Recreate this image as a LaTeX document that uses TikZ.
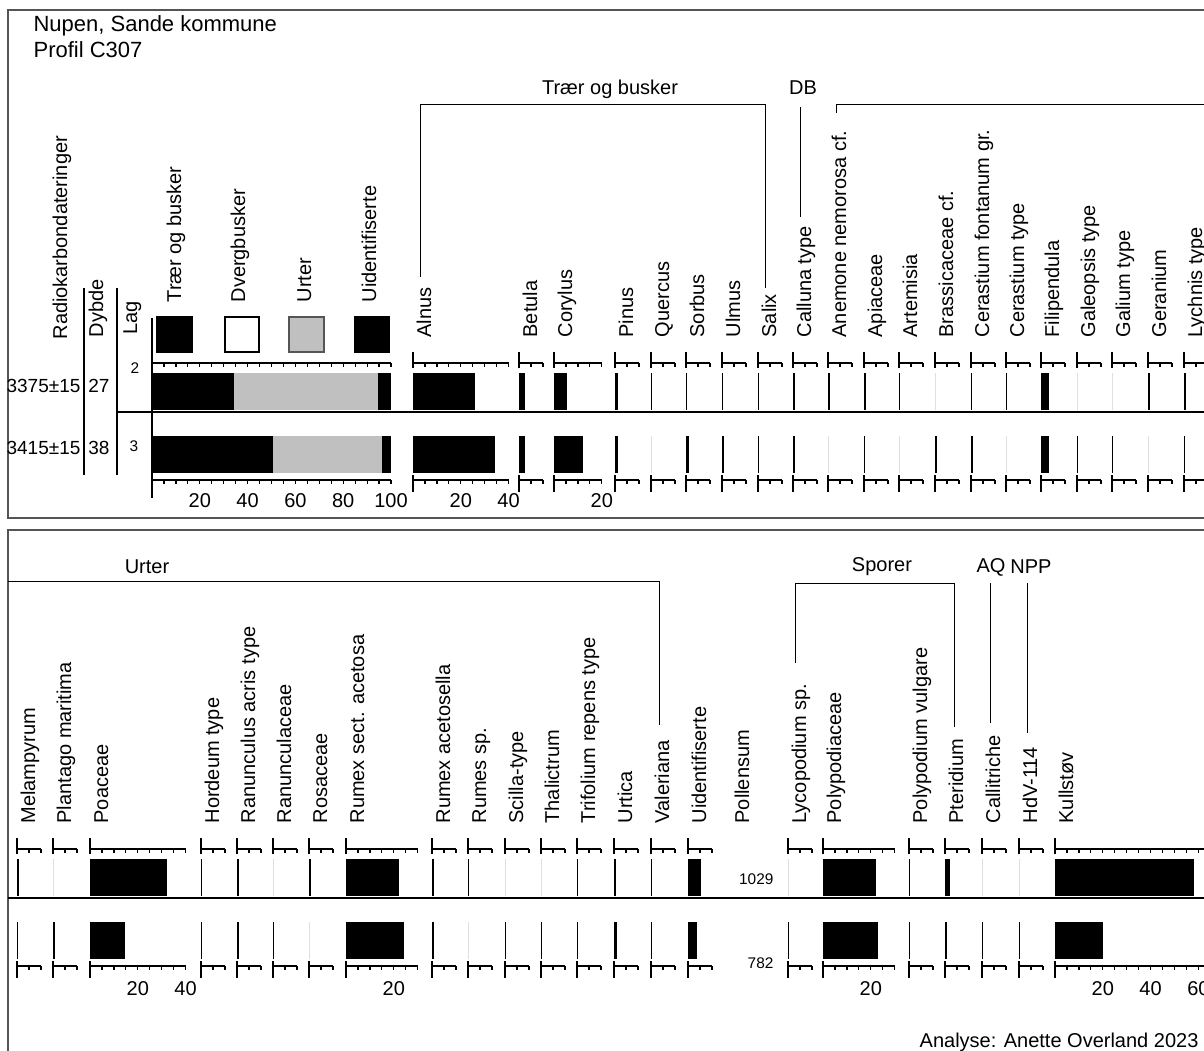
\documentclass[tikz,border=0pt]{standalone}
\usepackage{fontspec}
\setmainfont{Liberation Sans}
\usetikzlibrary{%
  arrows,%
  calc,%
  positioning%
}
\definecolor{urtgray}{HTML}{C0C0C0}
\definecolor{framegray}{HTML}{555555}

% #1 x of axis, #2 y offset of panel, #3 label, #4 scale max, #5 row 1, #6 row 2
\newcommand{\taxon}[6]{%
  \draw (#1,352+#2) -- (#1,368+#2);
  \draw (#1,363+#2) -- ({#1+#4*2.39},363+#2);
  \draw (#1,475+#2) -- (#1,492+#2);
  \draw (#1,480+#2) -- ({#1+#4*2.39},480+#2);
  \foreach \t in {5,10,...,#4} {
    \draw ({#1+\t*2.39},363+#2) -- ++(0,4);
    \draw ({#1+\t*2.39},480+#2) -- ++(0,4);
  }
  \fill (#1,373+#2) rectangle ({#1+#5*2.39},410+#2);
  \fill (#1,436+#2) rectangle ({#1+#6*2.39},473+#2);
  \node[lbl] (t#2-#1) at (#1+18,338+#2) {#3};
}

\begin{document}
\begin{tikzpicture}[
  x=0.5pt, y=-0.5pt, line width=0.6pt,
  lbl/.style={rotate=90, anchor=base west, inner sep=0pt,
    font=\fontsize{10}{12}\selectfont},
  hdr/.style={inner sep=0pt, font=\fontsize{10}{12}\selectfont},
  ttl/.style={inner sep=0pt, anchor=base west, font=\fontsize{11}{13}\selectfont},
  rowlbl/.style={inner sep=0pt, font=\fontsize{9.5}{11}\selectfont},
  small/.style={inner sep=0pt, font=\fontsize{7.7}{9}\selectfont},
  frm/.style={draw=framegray, line width=0.75pt},
  grp/.style={line width=0.5pt}
]
\useasboundingbox (0,0) rectangle (1204,1050);
\clip (0,0) rectangle (1204,1050);

\draw[frm] (8,10) rectangle (1230,518);
\draw[frm] (8,530) rectangle (1230,1070);

\node[ttl] (title) at (33,31) {Nupen, Sande kommune};
\node[ttl] (profil) at (33,57) {Profil C307};

% left columns
\node[lbl] (radio) at (67,340) {Radiokarbondateringer};
\node[lbl] (dybde) at (103,338) {Dybde};
\node[lbl] (lag) at (137,335) {Lag};
\draw (84,288) -- (84,475);
\draw (117,288) -- (117,475);
\node[rowlbl, anchor=east] (date1) at (81,386) {3375±15};
\node[rowlbl, anchor=east] (date2) at (81,448) {3415±15};
\node[rowlbl] (dyb1) at (99,386) {27};
\node[rowlbl] (dyb2) at (99,448) {38};
\node[small] (lag1) at (135,368) {2};
\node[small] (lag2) at (134,446) {3};

% summary diagram
\draw (152,318) -- (152,498);
\draw (152,363) -- (391,363);
\draw (152,480) -- (391,480);
\foreach \t in {5,10,...,100} {
  \draw ({152+\t*2.39},363) -- ++(0,4);
  \draw ({152+\t*2.39},480) -- ++(0,4);
}
\fill (152,373) rectangle (234,410);
\fill[urtgray] (234,373) rectangle (378,410);
\fill (378,373) rectangle (391,410);
\fill (152,436) rectangle (272.7,473);
\fill[urtgray] (272.7,436) rectangle (382,473);
\fill (382,436) rectangle (391,473);

\filldraw (157,317) rectangle (192,352);
\draw (225,317) rectangle (259,352);
\filldraw[fill=urtgray, draw=framegray] (289,317) rectangle (324,352);
\filldraw (355,317) rectangle (389,352);
\node[lbl] (sumtrb) at (181,303) {Trær og busker};
\node[lbl] (sumdvb) at (245,303) {Dvergbusker};
\node[lbl] (sumurt) at (311,303) {Urter};
\node[lbl] (sumuid) at (376,303) {Uidentifiserte};

% top panel taxa
\foreach \px/\txt/\mx/\ra/\rb in {
  413/Alnus/40/26/34.3, 519/Betula/10/2.6/2.6, 554/Corylus/20/5.3/12,
  615/Pinus/10/1.3/1.3, 651/Quercus/10/0.4/0, 686/Sorbus/10/0.4/1.1,
  722/Ulmus/10/0.4/0.8, 758/Salix/10/0.4/0.4, 793/Calluna type/10/0.8/0.7,
  828/Anemone nemorosa cf./10/0.8/0, 864/Apiaceae/10/0.8/0.4,
  899/Artemisia/10/0.4/0, 935/Brassicaceae cf./10/0/0.8,
  971/Cerastium fontanum gr./10/0.4/0.8, 1006/Cerastium type/10/0.4/0,
  1041/Filipendula/10/3.3/3.3, 1077/Galeopsis type/10/0/0.4,
  1112/Galium type/10/0/0.4, 1148/Geranium/10/0.8/0,
  1184/Lychnis type/10/0.8/0.4} {
  \taxon{\px}{0}{\txt}{\mx}{\ra}{\rb}
}

% bottom panel taxa
\foreach \px/\txt/\mx/\ra/\rb in {
  17/Melampyrum/10/0.8/0.4, 53/Plantago maritima/10/0/0.9,
  90/Poaceae/40/32.3/14.6, 201/Hordeum type/10/0.4/0.4,
  237/Ranunculus acris type/10/0.9/0.9, 273/Ranunculaceae/10/0/0.5,
  309/Rosaceae/10/1/0, 346/Rumex sect. acetosa/30/22.2/24.4,
  432/Rumex acetosella/10/0.9/0.9, 468/Rumes sp./10/0.4/0,
  505/Scilla-type/10/0/0.4, 541/Thalictrum/10/0/0.4,
  577/Trifolium repens type/10/0.4/0.4, 614/Urtica/10/0.9/1.3,
  651/Valeriana/10/0.4/0.4, 688/Uidentifiserte/10/5.3/3.6,
  788/Lycopodium sp./10/0/0.4, 823/Polypodiaceae/30/22.2/23.1,
  909/Polypodium vulgare/10/0.4/0.4, 945/Pteridium/10/2.1/1.0,
  982/Callitriche/10/0/0.4, 1019/HdV-114/10/0/0.4,
  1055/Kullstøv/65/58.2/20.2} {
  \taxon{\px}{486}{\txt}{\mx}{\ra}{\rb}
}

% scale numbers
\foreach \px/\n in {152/20,152/40,152/60,152/80,152/100,413/20,413/40,554/20} {
  \node[hdr] (n0-\px-\n) at ({\px+\n*2.39},501) {\n};
}
\foreach \px/\n in {90/20,90/40,346/20,823/20,1055/20,1055/40,1055/60} {
  \node[hdr] (n1-\px-\n) at ({\px+\n*2.39},989) {\n};
}

% row separators
\draw (117,412) -- (1204,412);
\draw (8,898) -- (1204,898);

% groups, top panel
\draw[grp] (420,277) -- (420,104) -- (765,104) -- (765,288);
\node[hdr] (gtrb) at (610,89) {Trær og busker};
\draw[grp] (800,107) -- (800,217);
\node[hdr] (gdb) at (803,88) {DB};
\draw[grp] (836,113) -- (836,104) -- (1204,104);

% groups, bottom panel
\draw[grp] (8,581) -- (659,581) -- (659,725);
\node[hdr] (gurt) at (147,567) {Urter};
\draw[grp] (795,663) -- (795,583) -- (954,583) -- (954,727);
\node[hdr] (gspo) at (882,567) {Sporer};
\draw[grp] (990,583) -- (990,723);
\node[hdr] (gaq) at (991,567) {AQ};
\draw[grp] (1027,583) -- (1027,733);
\node[hdr] (gnpp) at (1031,567) {NPP};

% pollen sum
\node[lbl] (psum) at (749,824) {Pollensum};
\node[small, anchor=east] (ps1) at (774,879) {1029};
\node[small, anchor=east] (ps2) at (774,963) {782};

\node[hdr, anchor=base east] (analyse) at (1199,1047) {Analyse: Anette Overland 2023};
\end{tikzpicture}
\end{document}
